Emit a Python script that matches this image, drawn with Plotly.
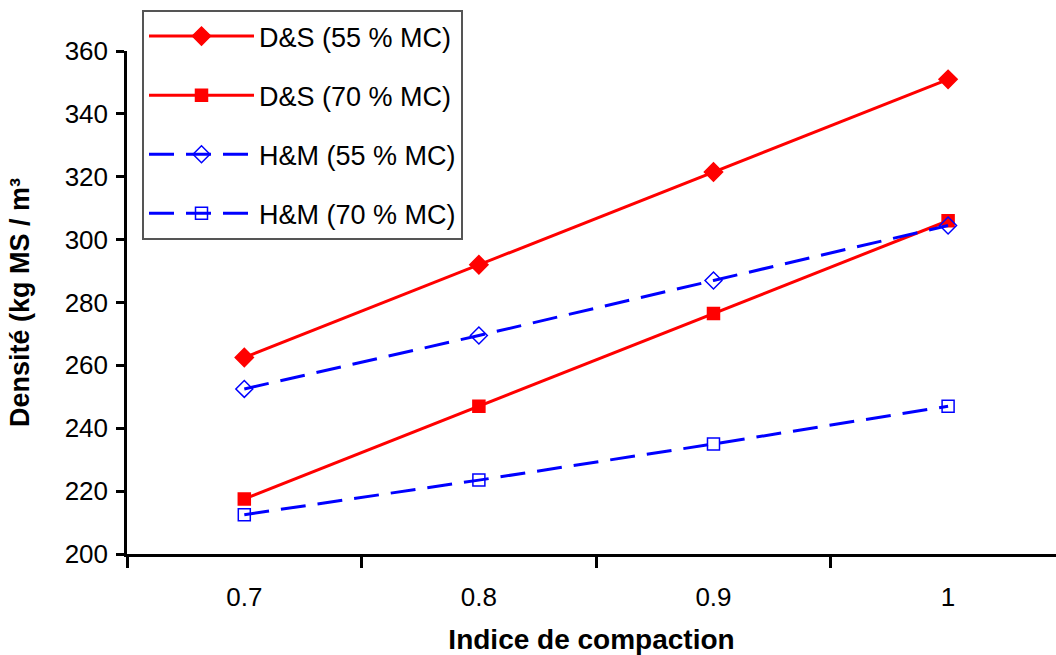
import plotly.graph_objects as go

categories = ["0.7", "0.8", "0.9", "1"]
ds_55 = [262.5, 292.0, 321.5, 351.0]
ds_70 = [217.5, 247.0, 276.5, 306.0]
hm_55 = [252.5, 269.5, 287.0, 304.5]
hm_70 = [212.5, 223.5, 235.0, 247.0]
y_ticks = [200, 220, 240, 260, 280, 300, 320, 340, 360]

FONT = "Liberation Sans, Arial, sans-serif"

fig = go.Figure()
series = [
    ("D&S (55 % MC)", ds_55, "red", "solid", "diamond", 14),
    ("D&S (70 % MC)", ds_70, "red", "solid", "square", 12),
    ("H&M (55 % MC)", hm_55, "blue", "25px,12px", "diamond-open", 13),
    ("H&M (70 % MC)", hm_70, "blue", "25px,12px", "square-open", 12),
]
for i, (name, vals, col, dash, sym, sz) in enumerate(series):
    fig.add_trace(go.Scatter(
        x=categories, y=vals, name=name, mode="lines+markers",
        legendgroup=f"g{i}",
        line=dict(color=col, width=3, dash=dash),
        marker=dict(symbol=sym, size=sz, color=col, line=dict(color=col, width=1.5)),
    ))

fig.update_layout(
    width=1056, height=655,
    margin=dict(l=127, r=0, t=51, b=101),
    paper_bgcolor="white", plot_bgcolor="white",
    font=dict(family=FONT, size=26, color="black"),
    showlegend=True,
    legend=dict(
        x=(142 - 127) / (1056 - 127), xanchor="left",
        y=(554 - 10) / (554 - 51), yanchor="top",
        bgcolor="white", bordercolor="#555", borderwidth=2,
        font=dict(family=FONT, size=27, color="black"), tracegroupgap=21,
        itemwidth=105,
    ),
)
fig.update_xaxes(
    type="category", range=[-0.5, 3.46],
    showline=True, linecolor="black", linewidth=2.5,
    ticks="outside", tickson="boundaries", ticklen=11, tickwidth=2.5, tickcolor="black",
    ticklabelstandoff=18,
    showgrid=False, zeroline=False,
    title=dict(text="<b>Indice de compaction</b>", font=dict(family=FONT, size=28), standoff=22),
)
fig.update_yaxes(
    range=[200, 360], tickvals=y_ticks,
    showline=True, linecolor="black", linewidth=2.5,
    ticks="outside", ticklen=8, tickwidth=2.5, tickcolor="black",
    ticklabelstandoff=3,
    showgrid=False, zeroline=False,
    title=dict(text="<b>Densité (kg MS / m³</b>", font=dict(family=FONT, size=27), standoff=28),
)

fig.write_html("out.html")
